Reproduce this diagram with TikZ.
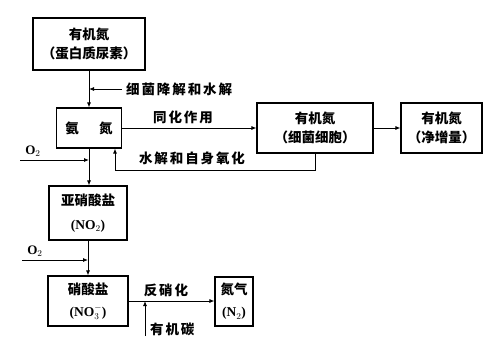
\documentclass[tikz,border=0pt]{standalone}
\usepackage{fontspec}
\setmainfont{Liberation Serif}
\newfontfamily\cjk{Noto Sans CJK SC}
\newfontfamily\cjksp[LetterSpace=14]{Noto Sans CJK SC}
\usetikzlibrary{arrows.meta}
\begin{document}
\begin{tikzpicture}[x=1pt,y=-1pt,
  box/.style={draw, line width=1.2pt, inner sep=0pt, align=center, font=\cjk\bfseries\fontsize{13.5}{19}\selectfont},
  conn/.style={line width=0.8pt,-{Latex[length=5pt,width=4pt]}},
  lbl/.style={font=\cjksp\bfseries\fontsize{13.5}{15}\selectfont, inner sep=0pt},
  ox/.style={inner sep=0pt, font=\bfseries\fontsize{13}{14}\selectfont}]
\useasboundingbox[fill=white] (0,0) rectangle (500,349);
\node[box, minimum width=112pt, minimum height=52pt] (b1) at (89,44) {有机氮\\（蛋白质尿素）};
\node[box, minimum width=65pt, minimum height=40pt] (b2) at (89,128) {氨\quad\enspace 氮};
\node[box, minimum width=116pt, minimum height=50pt] (b3) at (315,128) {有机氮\\（细菌细胞）};
\node[box, minimum width=81pt, minimum height=50pt] (b4) at (441.5,128) {有机氮\\（净增量）};
\node[box, minimum width=78pt, minimum height=54pt, font=\cjk\bfseries\fontsize{13.5}{24}\selectfont] (b5) at (88,213) {亚硝酸盐\\{\rmfamily(NO$_2$)}};
\node[box, minimum width=80pt, minimum height=50pt, font=\cjk\bfseries\fontsize{13.5}{22}\selectfont] (b6) at (88,301) {硝酸盐\\{\rmfamily(NO$_3^-$)}};
\node[box, minimum width=38pt, minimum height=49pt, font=\cjk\bfseries\fontsize{13.5}{22}\selectfont] (b7) at (234,301.5) {氮气\\{\rmfamily(N$_2$)}};
% top chain
\draw[conn] (b1.south) -- (b2.north);
\coordinate (c1) at (122,89);
\draw[conn] (c1) -- (b1.south |- c1);
\node[lbl, anchor=west] (t1) at (126,89) {细菌降解和水解};
% assimilation
\draw[conn] (b2.east) -- (b3.west);
\node[lbl] (t2) at (183,117) {同化作用};
\draw[conn] (b4.west -| b3.east) -- (b4.west);
% hydrolysis return
\coordinate (h1) at (115,170);
\draw[conn] (b3.south) |- (h1) -- (h1 |- b2.south);
\node[lbl] (t3) at (192,158) {水解和自身氧化};
% O2 inputs
\coordinate (o1) at (20,160);
\draw[conn] (o1) -- (o1 -| b2.south);
\node[ox] (t4) at (33,151) {O$_2$};
\draw[conn] (b2.south) -- (b2.south |- b5.north);
\draw[conn] (b5.south) -- (b6.north);
\coordinate (o2) at (22,260);
\draw[conn] (o2) -- (o2 -| b5.south);
\node[ox] (t5) at (35,251) {O$_2$};
% denitrification
\draw[conn] (b6.east) -- (b6.east -| b7.west);
\node[lbl] (t6) at (166,290) {反硝化};
\coordinate (c2) at (145,336);
\draw[conn] (c2) -- (c2 |- b6.east);
\node[lbl, anchor=west] (t7) at (150,329) {有机碳};
\end{tikzpicture}
\end{document}
